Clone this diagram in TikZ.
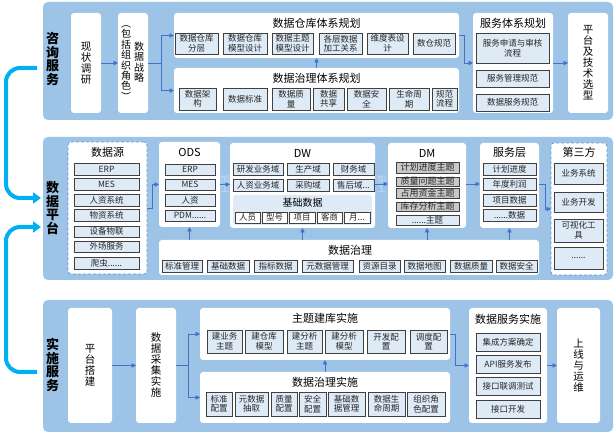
\documentclass[tikz,border=0pt]{standalone}
\usepackage{fontspec}
\setmainfont{Noto Sans CJK SC}
\usetikzlibrary{arrows.meta}
\definecolor{bandc}{RGB}{157,195,230}
\definecolor{itemfill}{RGB}{222,235,247}
\definecolor{itemdraw}{RGB}{64,64,64}
\definecolor{arrc}{RGB}{68,114,196}
\definecolor{cyanl}{RGB}{0,176,240}
\definecolor{dashb}{RGB}{91,155,213}
\definecolor{subfill}{RGB}{222,235,247}
\definecolor{grayitem}{RGB}{200,200,200}
\definecolor{jgc}{RGB}{200,222,244}
\newcommand\mybox[7][]{\node[#1, minimum width={(#5-#3)*1pt}, minimum height={(#6-#4)*1pt}] (#2) at ({(#3+#5)/2},{(#4+#6)/2}) {#7};}
\tikzset{
  bandbox/.style={fill=bandc, rounded corners=5pt, inner sep=0pt, outer sep=0pt},
  panel/.style={fill=white, rounded corners=3pt, inner sep=0pt, outer sep=0pt, align=center, font=\fontsize{10.5}{11}\selectfont},
  dpanel/.style={panel, draw=dashb, dashed, dash pattern=on 3pt off 2pt, line width=0.8pt},
  item/.style={fill=itemfill, draw=itemdraw, line width=0.7pt, inner sep=0pt, outer sep=0pt, align=center, font=\fontsize{8.5}{9.5}\selectfont, text=black!85},
  gitem/.style={item, fill=grayitem, font=\fontsize{9}{9.5}\selectfont},
  witem/.style={item, fill=white},
  ttl/.style={font=\fontsize{11}{12}\selectfont, inner sep=0pt},
  stl/.style={font=\fontsize{10}{11}\selectfont, inner sep=0pt},
  vtxt/.style={align=center, font=\fontsize{10.5}{11}\selectfont, inner sep=0pt},
  blab/.style={align=center, font=\fontsize{13}{13.4}\selectfont\bfseries, inner sep=0pt},
  jg/.style={align=center, font=\fontsize{9}{10}\selectfont, text=jgc, inner sep=0pt},
  flow/.style={draw=arrc, line width=0.8pt, -{Triangle[length=4.5pt,width=4.5pt]}},
  bigc/.style={draw=cyanl, line width=4pt, rounded corners=14pt, -{Triangle[length=8pt,width=11pt]}}
}
\begin{document}
\begin{tikzpicture}[x=1pt,y=-1pt]
\useasboundingbox (0,0) rectangle (616,435);
\fill[white] (0,0) rectangle (616,435);

% ================= Band 1 =================
\mybox[bandbox]{b1}{43}{2}{613}{120}{}
\node[blab] (l1) at (52.5,59) {咨\\询\\服\\务};
\mybox[panel]{xz}{71}{13}{101}{113}{现\\状\\调\\研}
\mybox[panel]{zl}{118}{13}{148}{113}{}
\node[vtxt, font=\fontsize{10}{10.4}\selectfont] (zl1) at (139,62) {数\\据\\战\\略};
\node[vtxt, font=\fontsize{10}{10.4}\selectfont] (zl2) at (126,63) {︵\\包\\括\\组\\织\\角\\色\\︶};

\mybox[panel]{p1}{174}{13}{459}{58}{}
\node[ttl] (p1t) at (316.5,23) {数据仓库体系规划};
\mybox[item]{i11}{175}{33}{218}{54}{数据仓库\\分层}
\mybox[item]{i12}{223}{33}{267}{54}{数据仓库\\模型设计}
\mybox[item]{i13}{272}{33}{313}{54}{数据主题\\模型设计}
\mybox[item]{i14}{319}{33}{362}{54}{各层数据\\加工关系}
\mybox[item]{i15}{367}{33}{408}{54}{维度表设\\计}
\mybox[item]{i16}{413}{33}{455}{54}{数仓规范}

\mybox[panel]{p2}{174}{68}{459}{113}{}
\node[ttl] (p2t) at (316.5,78) {数据治理体系规划};
\mybox[item]{j1}{179}{88}{216}{110}{数据架\\构}
\mybox[item]{j2}{223}{88}{267}{110}{数据标准}
\mybox[item]{j3}{272}{88}{310}{110}{数据质\\量}
\mybox[item]{j4}{313}{88}{344}{110}{数据\\共享}
\mybox[item]{j5}{347}{88}{386}{110}{数据安\\全}
\mybox[item]{j6}{389}{88}{429}{110}{生命周\\期}
\mybox[item]{j7}{432}{88}{457}{110}{规范\\流程}

\mybox[panel]{p3}{473}{13}{553}{113}{}
\node[ttl] (p3t) at (513,23) {服务体系规划};
\mybox[item]{k1}{476}{33}{549}{63}{服务申请与审核\\流程}
\mybox[item]{k2}{476}{70}{549}{87}{服务管理规范}
\mybox[item]{k3}{476}{94}{549}{111}{数据服务规范}

\mybox[panel]{p4}{568}{13}{608}{113}{平\\台\\及\\技\\术\\选\\型}

\draw[flow] (xz) -- (zl);
\coordinate (br1) at (161,63);
\draw[draw=arrc, line width=0.8pt] (zl.east |- br1) -- (br1);
\draw[flow] (br1) |- (p1.west);
\draw[flow] (br1) |- (p2.west);
\draw[flow] (p2.north) -- (p1.south);
\draw[flow] (p1.east) -- ++(5,0) |- (p3.west);
\draw[flow] (p3) -- (p4);

% ================= Band 2 =================
\mybox[bandbox]{b2}{43}{137}{613}{280}{}
\node[blab] (l2) at (52.5,208) {数\\据\\平\\台};

\mybox[dpanel]{ds}{68}{142}{147}{274}{}
\node[ttl] (dst) at (107.5,152) {数据源};
\mybox[item]{s1}{74}{163}{139}{175}{ERP}
\mybox[item]{s2}{74}{178}{139}{190}{MES}
\mybox[item]{s3}{74}{194}{139}{206}{人资系统}
\mybox[item]{s4}{74}{209}{139}{221}{物资系统}
\mybox[item]{s5}{74}{226}{139}{237}{设备物联}
\mybox[item]{s6}{74}{241}{139}{252}{外场服务}
\mybox[item]{s7}{74}{257}{139}{269}{爬虫......}

\mybox[panel]{ods}{159}{142}{220}{227}{}
\node[ttl] (odst) at (189.5,152) {ODS};
\mybox[item]{o1}{165}{164}{215}{175}{ERP}
\mybox[item]{o2}{165}{179}{215}{190}{MES}
\mybox[item]{o3}{165}{194}{215}{206}{人资}
\mybox[item]{o4}{165}{210}{215}{221}{PDM......}

\mybox[panel]{dw}{230}{143}{375}{228}{}
\node[ttl] (dwt) at (302.5,153) {DW};
\mybox[item]{w1}{233}{163}{283}{175}{研发业务域}
\mybox[item]{w2}{287}{163}{329}{175}{生产域}
\mybox[item]{w3}{333}{163}{374}{175}{财务域}
\mybox[item]{w4}{233}{179}{283}{191}{人资业务域}
\mybox[item]{w5}{287}{179}{329}{191}{采购域}
\mybox[item]{w6}{333}{179}{374}{191}{售后域...}
\mybox[panel, fill=subfill]{jc}{233}{195}{372}{225}{}
\node[stl] (jct) at (302.5,203) {基础数据};
\mybox[witem]{u1}{235}{212}{260}{223}{人员}
\mybox[witem]{u2}{262}{212}{287}{223}{型号}
\mybox[witem]{u3}{289}{212}{315}{223}{项目}
\mybox[witem]{u4}{317}{212}{342}{223}{客商}
\mybox[witem]{u5}{344}{212}{370}{223}{月...}

\mybox[panel]{dm}{388}{143}{466}{228}{}
\node[ttl] (dmt) at (427,153) {DM};
\mybox[gitem]{m1}{396}{162}{459}{173}{计划进度主题}
\mybox[gitem]{m2}{396}{177}{459}{186}{质量问题主题}
\mybox[gitem]{m3}{396}{188}{459}{198}{占用资金主题}
\mybox[gitem]{m4}{396}{202}{459}{211}{库存分析主题}
\mybox[item]{m5}{396}{215}{459}{225}{......主题}

\mybox[panel]{fw}{480}{143}{539}{228}{}
\node[ttl] (fwt) at (509.5,152) {服务层};
\mybox[item]{f1}{483}{163}{536}{175}{计划进度}
\mybox[item]{f2}{483}{178}{536}{190}{年度利润}
\mybox[item]{f3}{483}{194}{536}{206}{项目数据}
\mybox[item]{f4}{483}{209}{536}{221}{......数据}

\mybox[dpanel]{tp}{551}{143}{607}{275}{}
\node[ttl] (tpt) at (579,152) {第三方};
\mybox[item]{t1}{554}{163}{603}{184}{业务系统}
\mybox[item]{t2}{554}{192}{603}{212}{业务开发}
\mybox[item]{t3}{554}{219}{603}{242}{可视化工\\具}
\mybox[item]{t4}{554}{247}{603}{269}{......}

\mybox[panel]{gov}{159}{240}{539}{275}{}
\node[ttl] (govt) at (350,250) {数据治理};
\mybox[item]{g1}{162}{260}{202}{272}{标准管理}
\mybox[item]{g2}{207}{260}{249}{272}{基础数据}
\mybox[item]{g3}{254}{260}{297}{272}{指标数据}
\mybox[item]{g4}{302}{260}{353}{272}{元数据管理}
\mybox[item]{g5}{359}{260}{400}{272}{资源目录}
\mybox[item]{g6}{404}{260}{445}{272}{数据地图}
\mybox[item]{g7}{450}{260}{492}{272}{数据质量}
\mybox[item]{g8}{496}{260}{537}{272}{数据安全}

\draw[flow] (ds.east) -- ++(5,0) |- (ods.west |- o2);
\node[jg] (jg1) at (225,184) {加\\工};
\draw[flow] (ods.east |- o2) -- (dw.west |- o2);
\node[jg] (jg2) at (381.5,184) {加\\工};
\draw[flow] (dw.east |- f2) -- (dm.west |- f2);
\draw[flow] (dm.east |- f2) -- (fw.west |- f2);
\draw[flow] (fw.east |- f2) -- ++(6,0) |- (tp.west);
\draw[flow] (gov.north -| ods.south) -- (ods.south);
\draw[flow] (gov.north -| dw.south) -- (dw.south);
\draw[flow] (gov.north -| dm.south) -- (dm.south);
\draw[flow] (gov.north -| fw.south) -- (fw.south);

% ================= Band 3 =================
\mybox[bandbox]{b3}{43}{300}{613}{432}{}
\node[blab] (l3) at (52.5,365) {实\\施\\服\\务};
\mybox[panel]{ptdj}{68}{308}{112}{423}{平\\台\\搭\\建}
\mybox[panel]{cj}{136}{308}{176}{423}{数\\据\\采\\集\\实\\施}

\mybox[panel]{ztj}{200}{308}{450}{360}{}
\node[ttl] (ztjt) at (325,318) {主题建库实施};
\mybox[item]{z1}{207}{330}{242}{353}{建业务\\主题}
\mybox[item]{z2}{245}{330}{283}{353}{建仓库\\模型}
\mybox[item]{z3}{287}{330}{322}{353}{建分析\\主题}
\mybox[item]{z4}{325}{330}{363}{353}{建分析\\模型}
\mybox[item]{z5}{367}{330}{405}{353}{开发配\\置}
\mybox[item]{z6}{410}{330}{447}{353}{调度配\\置}

\mybox[panel]{zlss}{200}{372}{450}{423}{}
\node[ttl] (zlsst) at (325,382) {数据治理实施};
\mybox[item]{h1}{206}{392}{232}{416}{标准\\配置}
\mybox[item]{h2}{235}{392}{268}{416}{元数据\\抽取}
\mybox[item]{h3}{271}{392}{297}{416}{质量\\配置}
\mybox[item]{h4}{299}{392}{326}{416}{安全\\配置}
\mybox[item]{h5}{328}{392}{365}{416}{基础数\\据管理}
\mybox[item]{h6}{368}{392}{405}{416}{数据生\\命周期}
\mybox[item]{h7}{407}{392}{445}{416}{组织角\\色配置}

\mybox[panel]{sjfw}{469}{308}{547}{423}{}
\node[ttl] (sjfwt) at (508,319) {数据服务实施};
\mybox[item]{v1}{476}{333}{540}{351}{集成方案确定}
\mybox[item]{v2}{476}{355}{540}{373}{API服务发布}
\mybox[item]{v3}{476}{377}{540}{395}{接口联调测试}
\mybox[item]{v4}{476}{400}{540}{418}{接口开发}

\mybox[panel]{sxyw}{557}{308}{600}{423}{上\\线\\与\\运\\维}

\draw[flow] (ptdj) -- (cj);
\coordinate (br3) at (188,365.5);
\draw[draw=arrc, line width=0.8pt] (cj.east) -- (br3);
\draw[flow] (br3) |- (ztj.west);
\draw[flow] (br3) |- (zlss.west);
\draw[flow] (zlss.north) -- (ztj.south);
\draw[flow] (ztj.east) -- ++(5,0) |- (sjfw.west);
\draw[flow] (sjfw) -- (sxyw);

% ================= Cyan connectors =================
\coordinate (c1s) at (37,68);
\coordinate (c1e) at (41,198);
\coordinate (c2s) at (37,372);
\coordinate (c2e) at (41,227);
\draw[bigc] (c1s) -- (6,68) -- (6,198) -- (c1e);
\draw[bigc] (c2s) -- (6,372) -- (6,227) -- (c2e);
\end{tikzpicture}
\end{document}
